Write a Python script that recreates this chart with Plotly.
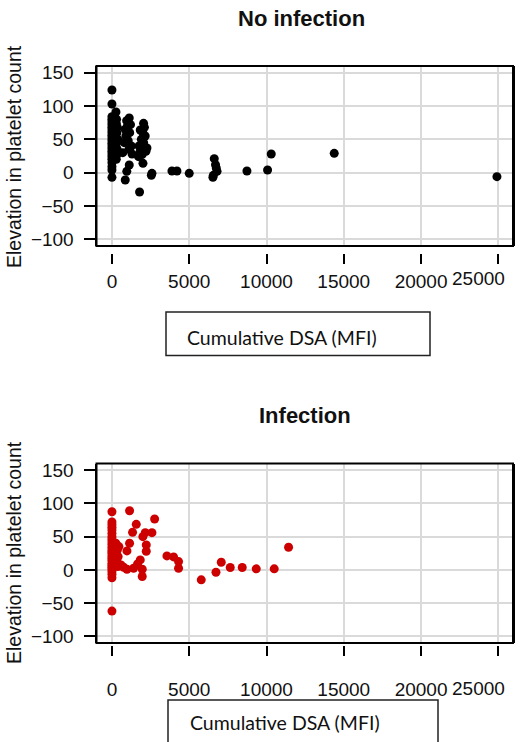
import plotly.graph_objects as go

# Cumulative donor-specific antibody (MFI) vs. elevation in platelet count
noinf_dsa = [0, 0, 0, 0, 0, 0, 0, 0, 0, 0, 0, 0, 0, 0, 0, 0, 0, 0, 0, 0, 0, 0, 0,
             260, 300, 280, 350, 320, 250, 380, 300, 260, 340, 400, 300, 280,
             1119, 950, 1000, 850, 1150, 900, 1050, 800, 1250, 1100, 700, 1300,
             1119, 960, 860, 1000, 1200,
             2045, 2100, 1831, 2000, 2150, 1900, 2050, 2264, 1750, 2200, 1721,
             1800, 2006, 1950, 1786, 2100,
             2588, 2550, 3882, 4206, 5001, 6619, 6700, 6750, 6800, 6533, 6560,
             8734, 10069, 10307, 14383, 24910]
noinf_plt = [124, 103, 84, 80, 76, 72, 68, 64, 60, 56, 52, 48, 44, 40, 36, 32, 28,
             24, 20, 15, 9, 4, -7,
             91, 80, 74, 68, 60, 55, 50, 45, 40, 35, 30, 26, 20,
             82, 78, 70, 65, 60, 55, 48, 45, 40, 35, 30, 28,
             11.5, 2, -11, 62, 72,
             74, 68, 64, 60, 55, 50, 45, 37, 40, 32, 24,
             30, 14, 27, -29, 38,
             -1, -4, 2.5, 2.5, -1, 21, 12, 7, 2, -7, -4,
             2.5, 4, 28, 29, -6]

inf_dsa = [0, 0, 0, 0, 0, 0, 0, 0, 0, 0, 0, 0, 0, 0, 0, 0, 0, 0, 0, 0, 0, 0, 0, 0, 0,
           250, 300, 350, 280, 400, 320, 260, 380, 450,
           1140, 1573, 1333, 2588, 2155, 2000, 1140, 2220, 970, 2220, 1831, 1657,
           2760, 1400, 970, 582, 756, 1960, 1960,
           3558, 3988, 4310, 4310, 5778, 6730, 7072, 7654, 8430, 9336, 10500, 11428]
inf_plt = [87.5, 72, 68, 64, 60, 55, 50, 46, 42, 38, 34, 30, 27, 24, 20, 17, 14, 10,
           7, 4, 1, -3, -7, -12, -62,
           40, 35, 30, 25, 20, 15, 10, 5, 35,
           89, 68.5, 56.5, 56, 56, 50, 40, 37.5, 28.5, 28, 15, 9,
           76.5, 2.5, 1, 7.5, 4, 1, -10,
           21, 19.5, 12.5, 2.5, -15, -3.5, 11.5, 3.5, 3.5, 1.5, 1.5, 34]

x_ticks = [0, 5000, 10000, 15000, 20000, 25000]
x_labels = ["0", "5000", "10000", "15000", "20000", "25000"]
y_ticks = [-100, -50, 0, 50, 100, 150]
x_range = [-1000, 25950]
y_range = [-110, 160]

W, H = 527, 742
SANS = "Arial, Liberation Sans, sans-serif"
TICK_FONT = dict(family=SANS, size=19, color="#111")
GRID = "#dadada"


def px(x):
    return x / W


def py(y):
    return 1 - y / H


fig = go.Figure()
fig.add_trace(go.Scatter(x=noinf_dsa, y=noinf_plt, mode="markers", xaxis="x", yaxis="y",
                         marker=dict(size=9, color="#000000"), showlegend=False))
fig.add_trace(go.Scatter(x=inf_dsa, y=inf_plt, mode="markers", xaxis="x2", yaxis="y2",
                         marker=dict(size=9, color="#CD0000"), showlegend=False))

# x axes sit a few pixels below the plot frame (base-R style); the last label is
# nudged inwards so it stays on the page
free_x = dict(range=x_range, tickvals=x_ticks, ticktext=x_labels[:-1] + [""],
              ticks="outside", ticklen=10, tickwidth=1.5, tickcolor="black",
              tickfont=TICK_FONT, ticklabeloverflow="allow",
              showgrid=True, gridcolor=GRID, gridwidth=1.5, zeroline=False,
              showline=False, anchor="free", domain=[px(96.5), px(513)])
box_y = dict(range=y_range, tickvals=y_ticks, ticks="outside", ticklen=11, tickwidth=1.5,
             tickcolor="black", tickfont=TICK_FONT, ticklabelstandoff=6,
             showgrid=True, gridcolor=GRID, gridwidth=1.5, zeroline=False,
             showline=True, linecolor="black", linewidth=2, mirror=True)

fig.update_layout(
    width=W, height=H, margin=dict(l=0, r=0, t=0, b=0, autoexpand=False),
    paper_bgcolor="white", plot_bgcolor="white",
    xaxis=dict(**free_x, position=py(253), ticklabelstandoff=1),
    yaxis=dict(**box_y, anchor="x", domain=[py(246), py(66)]),
    xaxis2=dict(**free_x, position=py(645), ticklabelstandoff=17),
    yaxis2=dict(**box_y, anchor="x2", domain=[py(643), py(463.5)]),
)

# plot frames
for xr, yr in (("x domain", "y domain"), ("x2 domain", "y2 domain")):
    fig.add_shape(type="rect", xref=xr, yref=yr, x0=0, x1=1, y0=0, y1=1,
                  line=dict(color="black", width=2), layer="above")

# last x tick label, shifted left of its tick
for xref, ylab in (("x", 278), ("x2", 688)):
    fig.add_annotation(text=x_labels[-1], x=x_ticks[-1], xref=xref, xshift=-20,
                       y=py(ylab), yref="paper", yanchor="middle", showarrow=False,
                       font=TICK_FONT)

TITLE_FONT = dict(family=SANS, size=22, color="#111")
YT_FONT = dict(family=SANS, size=19.5, color="#111")
BOX_FONT = dict(family="Lato, Open Sans, sans-serif", size=19.5, color="#111")

annotations = [
    dict(text="<b>No infection</b>", x=px(301), y=py(19), font=TITLE_FONT),
    dict(text="<b>Infection</b>", x=px(305), y=py(415), font=TITLE_FONT),
    dict(text="Elevation in platelet count", x=px(14), y=py(157), textangle=-90, font=YT_FONT),
    dict(text="Elevation in platelet count", x=px(14), y=py(553), textangle=-90, font=YT_FONT),
    dict(text="Cumulative DSA (MFI)", x=px(185), y=py(337), xanchor="left", font=BOX_FONT),
    dict(text="Cumulative DSA (MFI)", x=px(188), y=py(722), xanchor="left", font=BOX_FONT),
]
for a in annotations:
    a.setdefault("xanchor", "center")
    fig.add_annotation(xref="paper", yref="paper", yanchor="middle", showarrow=False, **a)

fig.add_shape(type="rect", xref="paper", yref="paper", x0=px(166), x1=px(430),
              y0=py(355.5), y1=py(312), line=dict(color="#222", width=1.5))
fig.add_shape(type="rect", xref="paper", yref="paper", x0=px(168), x1=px(438),
              y0=py(752), y1=py(700), line=dict(color="#222", width=1.5))

fig.write_html("out.html")
